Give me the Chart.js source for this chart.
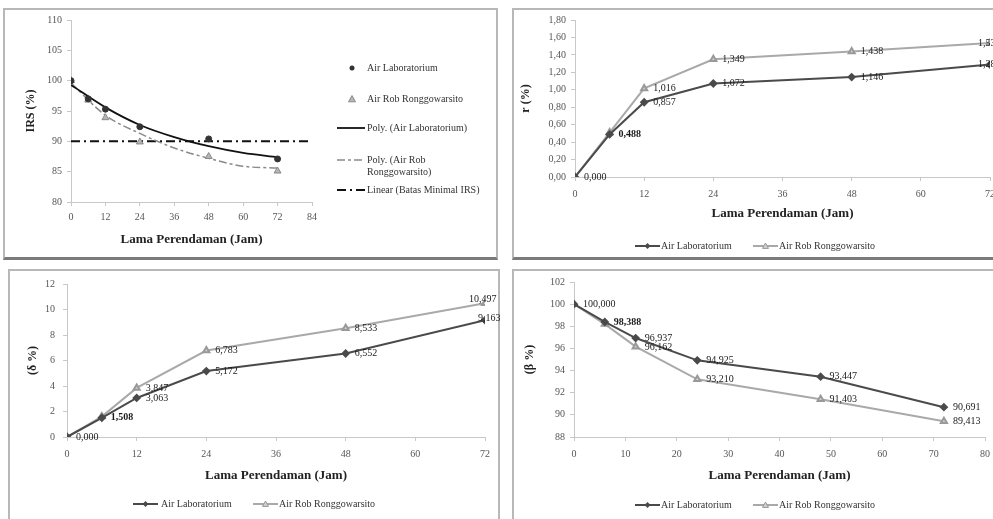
<!DOCTYPE html>
<html>
<head>
<meta charset="utf-8">
<script src="https://cdn.jsdelivr.net/npm/chart.js@4.4.0/dist/chart.umd.min.js"></script>
<style>
    body { margin: 0; width: 993px; height: 519px; overflow: hidden; background: #fff; position: relative; font-family: "Liberation Serif", "Times New Roman", serif; }
    .panel { position: absolute; box-sizing: border-box; border: 2px solid #b8b8b8; background: #fff; }
    .panel.top { border-bottom: 3px solid #7a7a7a; }
    canvas { position: absolute; }
    .lg { position: absolute; font-size: 10px; line-height: 12px; color: #333; white-space: nowrap; }
    svg.keys { position: absolute; left: 0; top: 0; }
</style>
</head>
<body>
<div class="panel top" style="left:3px;top:8px;width:495px;height:252px"></div>
<div class="panel top" style="left:512px;top:8px;width:490px;height:252px"></div>
<div class="panel" style="left:8px;top:269px;width:492px;height:256px"></div>
<div class="panel" style="left:512px;top:269px;width:490px;height:256px"></div>

<canvas id="c1" width="495" height="250" style="left:3px;top:8px"></canvas>
<canvas id="c2" width="500" height="250" style="left:512px;top:8px"></canvas>
<canvas id="c3" width="492" height="249" style="left:8px;top:270px"></canvas>
<canvas id="c4" width="500" height="249" style="left:512px;top:270px"></canvas>

<svg class="keys" width="993" height="519" id="keys"></svg>

<div class="lg" style="left:367px;top:62px">Air Laboratorium</div>
<div class="lg" style="left:367px;top:93px">Air Rob Ronggowarsito</div>
<div class="lg" style="left:367px;top:122px">Poly. (Air Laboratorium)</div>
<div class="lg" style="left:367px;top:154px">Poly. (Air Rob<br>Ronggowarsito)</div>
<div class="lg" style="left:367px;top:184px">Linear (Batas Minimal IRS)</div>

<div class="lg" style="left:661px;top:240px">Air Laboratorium</div>
<div class="lg" style="left:779px;top:240px">Air Rob Ronggowarsito</div>
<div class="lg" style="left:161px;top:498px">Air Laboratorium</div>
<div class="lg" style="left:279px;top:498px">Air Rob Ronggowarsito</div>
<div class="lg" style="left:661px;top:499px">Air Laboratorium</div>
<div class="lg" style="left:779px;top:499px">Air Rob Ronggowarsito</div>

<script>
// Datos
// Gráfica 1: IRS (%)
const jamIRS = [0, 6, 12, 24, 48, 72];
const irsLab = [100, 97.0, 95.3, 92.4, 90.4, 87.1];
const irsRob = [100, 96.8, 93.9, 89.9, 87.5, 85.1];
const jamPoly = [0, 12, 24, 36, 48, 60, 72];
const polyLab = [99.3, 95.6, 92.7, 90.7, 89.2, 88.1, 87.4];
const polyRob = [99.6, 94.3, 91.3, 88.9, 87.2, 85.9, 85.6];
const jamBatas = [0, 84];
const batasIRS = [90, 90];

// Gráficas 2-4
const jam = [0, 6, 12, 24, 48, 72];
const rLab = [0, 0.488, 0.857, 1.072, 1.146, 1.289];
const rRob = [0, 0.510, 1.016, 1.349, 1.438, 1.537];
const dLab = [0, 1.508, 3.063, 5.172, 6.552, 9.163];
const dRob = [0, 1.600, 3.847, 6.783, 8.533, 10.497];
const bLab = [100, 98.388, 96.937, 94.925, 93.447, 90.691];
const bRob = [100, 98.200, 96.162, 93.210, 91.403, 89.413];

const serif = '"Liberation Serif", "Times New Roman", serif';
Chart.defaults.font.family = serif;
Chart.defaults.color = '#444';

const LAB_COLOR = '#4a4a4a';
const ROB_COLOR = '#a9a9a9';

function fmt(v, dec) {
    return v.toFixed(dec).replace('.', ',');
}

function toPoints(xs, ys) {
    return xs.map((x, i) => ({ x: x, y: ys[i] }));
}

// Etiquetas de valor junto a cada punto
const valueLabels = {
    id: 'valueLabels',
    afterDatasetsDraw(chart) {
        const ctx = chart.ctx;
        chart.data.datasets.forEach((ds, i) => {
            if (!ds.labelStyle) return;
            const meta = chart.getDatasetMeta(i);
            ctx.save();
            ctx.fillStyle = '#1a1a1a';
            ctx.textBaseline = 'middle';
            meta.data.forEach((pt, j) => {
                const st = ds.labelStyle[j];
                if (!st) return;
                ctx.font = (st.bold ? 'bold ' : '') + '10px ' + serif;
                ctx.fillText(fmt(ds.data[j].y, 3), pt.x + st.dx, pt.y + st.dy);
            });
            ctx.restore();
        });
    }
};

function buildAxes(g) {
    return {
        x: {
            type: 'linear', min: g.xMin, max: g.xMax,
            ticks: { stepSize: g.xStep, autoSkip: false, padding: g.xTickPad, font: { size: 10 }, color: '#555' },
            grid: { drawOnChartArea: false, tickLength: 4, color: '#c8c8c8' },
            border: { color: '#c8c8c8' },
            title: { display: true, text: 'Lama Perendaman (Jam)', color: '#222',
                     font: { size: 13, weight: 'bold' }, padding: { top: 0, bottom: g.xTitlePad } },
            afterFit: s => { s.height = g.xH; }
        },
        y: {
            min: g.yMin, max: g.yMax,
            ticks: { stepSize: g.yStep, padding: g.yTickPad, font: { size: 10 }, color: '#555',
                     callback: v => fmt(v, g.yDec) },
            grid: { drawOnChartArea: false, tickLength: 4, color: '#c8c8c8' },
            border: { color: '#c8c8c8' },
            title: { display: true, text: g.yTitle, color: '#222',
                     font: { size: 12, weight: 'bold' }, padding: { top: g.yTitlePad, bottom: 0 } },
            afterFit: s => { s.width = g.yW; }
        }
    };
}

function baseOptions(g) {
    return {
        responsive: false,
        devicePixelRatio: 1,
        animation: false,
        layout: { padding: g.pad },
        plugins: { legend: { display: false }, tooltip: { enabled: false } },
        scales: buildAxes(g)
    };
}

// Gráfica 1: dispersión con líneas de tendencia
new Chart(document.getElementById('c1'), {
    type: 'scatter',
    data: {
        datasets: [
            { label: 'Air Laboratorium', data: toPoints(jamIRS, irsLab), pointStyle: 'circle',
              pointRadius: 3, backgroundColor: '#333', borderColor: '#333', order: 0 },
            { label: 'Air Rob Ronggowarsito', data: toPoints(jamIRS, irsRob), pointStyle: 'triangle',
              pointRadius: 4, backgroundColor: '#b5b5b5', borderColor: '#8a8a8a', order: 0 },
            { type: 'line', label: 'Poly. (Air Laboratorium)', data: toPoints(jamPoly, polyLab),
              borderColor: '#111', borderWidth: 1.8, pointRadius: 0, cubicInterpolationMode: 'monotone', order: 1 },
            { type: 'line', label: 'Poly. (Air Rob Ronggowarsito)', data: toPoints(jamPoly, polyRob),
              borderColor: '#8a8a8a', borderWidth: 1.5, borderDash: [8, 3, 3, 3], pointRadius: 0,
              cubicInterpolationMode: 'monotone', order: 1 },
            { type: 'line', label: 'Linear (Batas Minimal IRS)', data: toPoints(jamBatas, batasIRS),
              borderColor: '#111', borderWidth: 2, borderDash: [9, 4, 2, 4], pointRadius: 0, order: 1 }
        ]
    },
    options: baseOptions({
        pad: { left: 4, top: 12, right: 186, bottom: 10 },
        xMin: 0, xMax: 84, xStep: 12, xH: 46, xTickPad: 5, xTitlePad: 1,
        yMin: 80, yMax: 110, yStep: 5, yDec: 0, yW: 64, yTickPad: 5, yTitlePad: 17,
        yTitle: 'IRS (%)'
    })
});

function seriesChart(id, labY, robY, labStyle, robStyle, g) {
    return new Chart(document.getElementById(id), {
        type: 'line',
        data: {
            datasets: [
                { label: 'Air Laboratorium', data: toPoints(jam, labY), borderColor: LAB_COLOR,
                  borderWidth: 2, pointStyle: 'rectRot', pointRadius: 3, backgroundColor: LAB_COLOR,
                  pointBorderColor: LAB_COLOR, labelStyle: labStyle, order: 0 },
                { label: 'Air Rob Ronggowarsito', data: toPoints(jam, robY), borderColor: ROB_COLOR,
                  borderWidth: 2, pointStyle: 'triangle', pointRadius: 3.5, backgroundColor: '#d0d0d0',
                  pointBorderColor: '#999', labelStyle: robStyle, order: 1 }
            ]
        },
        options: baseOptions(g),
        plugins: [valueLabels]
    });
}

const R = { dx: 9, dy: 0 };
const RB = { dx: 9, dy: 0, bold: true };

// Gráfica 2: r (%)
seriesChart('c2', rLab, rRob,
    [R, RB, R, R, R, { dx: -12, dy: 0 }],
    [null, null, R, R, R, { dx: -12, dy: 0 }],
    { pad: { left: 4, top: 12, right: 22, bottom: 35 },
      xMin: 0, xMax: 72, xStep: 12, xH: 46, xTickPad: 7, xTitlePad: 2,
      yMin: 0, yMax: 1.8, yStep: 0.2, yDec: 2, yW: 59, yTickPad: 5, yTitlePad: 3,
      yTitle: 'r (%)' });

// Gráfica 3
seriesChart('c3', dLab, dRob,
    [R, RB, R, R, R, { dx: -7, dy: -2 }],
    [null, null, { dx: 9, dy: 0 }, R, R, { dx: -16, dy: -4 }],
    { pad: { left: 4, top: 11, right: 15, bottom: 33 },
      xMin: 0, xMax: 72, xStep: 12, xH: 49, xTickPad: 7, xTitlePad: 3,
      yMin: 0, yMax: 12, yStep: 2, yDec: 0, yW: 55, yTickPad: 8, yTitlePad: 14,
      yTitle: '(δ %)' });

// Gráfica 4
seriesChart('c4', bLab, bRob,
    [R, RB, R, R, R, R],
    [null, null, { dx: 9, dy: 1 }, R, R, R],
    { pad: { left: 4, top: 12, right: 27, bottom: 33 },
      xMin: 0, xMax: 80, xStep: 10, xH: 49, xTickPad: 7, xTitlePad: 3,
      yMin: 88, yMax: 102, yStep: 2, yDec: 0, yW: 58, yTickPad: 5, yTitlePad: 7,
      yTitle: '(β %)' });

// Claves de la leyenda (muestras de línea y marcador)
const svg = document.getElementById('keys');
function addShape(tag, attrs) {
    const el = document.createElementNS('http://www.w3.org/2000/svg', tag);
    Object.keys(attrs).forEach(k => el.setAttribute(k, attrs[k]));
    svg.appendChild(el);
}
function tri(cx, cy, r) {
    return `${cx},${cy - r} ${cx - r},${cy + r * 0.8} ${cx + r},${cy + r * 0.8}`;
}
function diamond(cx, cy, r) {
    return `${cx},${cy - r} ${cx + r},${cy} ${cx},${cy + r} ${cx - r},${cy}`;
}

addShape('circle', { cx: 352, cy: 68, r: 2.5, fill: '#333' });
addShape('polygon', { points: tri(352, 99, 3.5), fill: '#b5b5b5', stroke: '#8a8a8a' });
addShape('line', { x1: 337, y1: 128, x2: 365, y2: 128, stroke: '#111', 'stroke-width': 1.8 });
addShape('line', { x1: 337, y1: 160, x2: 365, y2: 160, stroke: '#8a8a8a', 'stroke-width': 1.5, 'stroke-dasharray': '8 3 3 3' });
addShape('line', { x1: 337, y1: 190, x2: 365, y2: 190, stroke: '#111', 'stroke-width': 2, 'stroke-dasharray': '9 4 2 4' });

[[635, 246], [133, 504], [635, 505]].forEach(([x, y]) => {
    addShape('line', { x1: x, y1: y, x2: x + 25, y2: y, stroke: LAB_COLOR, 'stroke-width': 2 });
    addShape('polygon', { points: diamond(x + 12.5, y, 3), fill: LAB_COLOR });
});
[[753, 246], [253, 504], [753, 505]].forEach(([x, y]) => {
    addShape('line', { x1: x, y1: y, x2: x + 25, y2: y, stroke: ROB_COLOR, 'stroke-width': 2 });
    addShape('polygon', { points: tri(x + 12.5, y, 3), fill: '#d0d0d0', stroke: '#999' });
});
</script>
</body>
</html>
